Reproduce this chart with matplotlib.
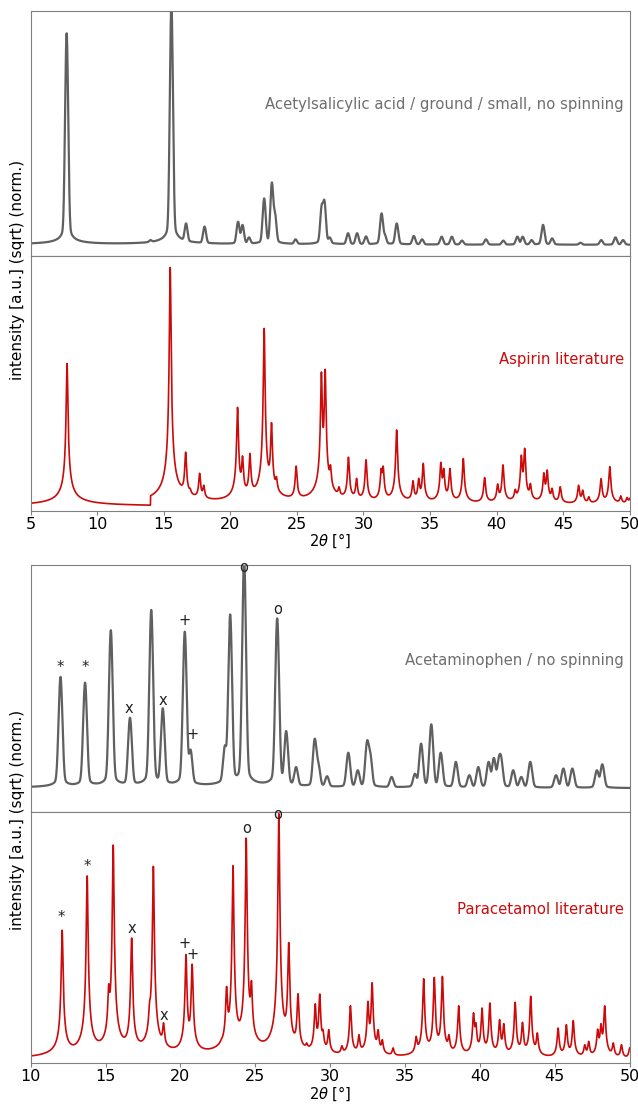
import numpy as np
import matplotlib
matplotlib.use("Agg")
import matplotlib.pyplot as plt

# ---------------- data ----------------
# Aspirin, measured (grey), peak positions [deg 2theta] and visible heights (axis fraction)
asp_exp_pos = [6.9, 7.70, 14.0, 15.57, 16.67, 18.06, 20.58, 20.91, 21.4, 22.54, 23.12, 23.34,
               24.9, 26.87, 27.06, 27.46, 28.84, 29.52, 30.19, 31.36, 31.6, 32.5, 33.78, 34.4,
               35.87, 36.64, 37.4, 39.2, 40.5, 41.56, 41.96, 42.63, 43.49, 44.17, 46.3, 47.86,
               48.93, 49.5]
asp_exp_h = [0.065, 0.909, 0.065, 1.03, 0.133, 0.12, 0.14, 0.127, 0.076, 0.235, 0.30, 0.185,
             0.068, 0.212, 0.229, 0.076, 0.093, 0.093, 0.08, 0.174, 0.09, 0.133, 0.082, 0.068,
             0.079, 0.079, 0.063, 0.068, 0.063, 0.079, 0.079, 0.065, 0.127, 0.072, 0.054, 0.065,
             0.076, 0.065]
asp_exp_base = 0.045

# Aspirin, literature (red)
asp_lit_pos = [7.73, 15.48, 16.64, 16.98, 17.69, 18.0, 20.54, 20.91, 21.47, 22.54, 23.09, 23.46,
               24.94, 26.84, 27.12, 27.52, 28.16, 28.87, 29.48, 30.19, 31.33, 31.48, 32.49, 33.72,
               34.15, 34.49, 35.81, 36.03, 36.49, 37.5, 38.45, 39.1, 40.08, 40.48, 41.4, 41.86,
               42.11, 42.54, 43.55, 43.8, 44.17, 44.78, 46.16, 46.47, 46.93, 47.85, 48.5, 49.33,
               49.8, 50.1]
asp_lit_h = [0.578, 0.955, 0.23, 0.088, 0.147, 0.10, 0.406, 0.215, 0.225, 0.716, 0.346, 0.134,
             0.175, 0.545, 0.555, 0.18, 0.094, 0.21, 0.127, 0.20, 0.166, 0.175, 0.317, 0.118,
             0.127, 0.186, 0.19, 0.166, 0.166, 0.205, 0.03, 0.13, 0.105, 0.18, 0.084, 0.218,
             0.245, 0.107, 0.149, 0.16, 0.088, 0.094, 0.10, 0.081, 0.055, 0.126, 0.173, 0.058,
             0.052, 0.07]
asp_lit_base = 0.016
asp_lit_start = 14.0   # literature pattern above 9 deg only starts here

# Acetaminophen, measured (grey)
ace_exp_pos = [11.99, 13.63, 15.13, 15.35, 16.63, 18.05, 18.82, 20.29, 20.67, 22.97, 23.32, 24.25,
               26.46, 27.06, 27.72, 28.84, 28.97, 29.19, 29.79, 31.21, 31.84, 32.47, 32.66, 34.1,
               35.66, 36.07, 36.75, 37.38, 38.39, 39.29, 39.89, 40.58, 40.93, 41.26, 41.4, 42.22,
               42.76, 43.36, 45.08, 45.57, 46.17, 47.81, 48.17]
ace_exp_h = [0.547, 0.524, 0.21, 0.736, 0.382, 0.818, 0.42, 0.73, 0.253, 0.27, 0.80, 1.03,
             0.784, 0.328, 0.182, 0.185, 0.297, 0.21, 0.145, 0.24, 0.169, 0.29, 0.25, 0.142,
             0.155, 0.277, 0.355, 0.24, 0.203, 0.149, 0.182, 0.203, 0.219, 0.223, 0.23, 0.169,
             0.142, 0.203, 0.149, 0.176, 0.176, 0.169, 0.193]
ace_exp_base = 0.095

# Paracetamol, literature (red)
par_lit_pos = [12.10, 13.77, 15.21, 15.51, 15.73, 16.74, 17.94, 18.19, 18.87, 20.37, 20.78, 22.72,
               23.08, 23.51, 24.39, 24.74, 26.57, 27.23, 27.85, 28.43, 29.0, 29.3, 29.52, 29.9,
               30.78, 31.35, 31.92, 32.52, 32.8, 33.2, 33.48, 34.2, 35.74, 36.24, 36.95, 37.49,
               37.93, 38.58, 39.57, 39.73, 40.14, 40.66, 41.31, 41.59, 42.35, 42.84, 43.39, 43.83,
               45.22, 45.77, 46.23, 47.0, 47.26, 47.86, 48.08, 48.33, 48.9, 49.45, 50.0]
par_lit_h = [0.529, 0.746, 0.315, 0.869, 0.215, 0.498, 0.246, 0.784, 0.16, 0.432, 0.394, 0.093,
             0.305, 0.786, 0.896, 0.328, 0.993, 0.48, 0.276, 0.08, 0.236, 0.275, 0.133, 0.133,
             0.069, 0.228, 0.113, 0.246, 0.32, 0.133, 0.093, 0.06, 0.106, 0.336, 0.341, 0.345,
             0.113, 0.228, 0.20, 0.16, 0.219, 0.239, 0.173, 0.157, 0.242, 0.162, 0.266, 0.12,
             0.139, 0.153, 0.169, 0.073, 0.086, 0.135, 0.157, 0.228, 0.08, 0.073, 0.06]
par_lit_base = 0.004

# Phase markers
ace_mark_x = [11.99, 13.63, 16.58, 18.82, 20.29, 20.84, 24.25, 26.46]
ace_mark_y = [0.585, 0.585, 0.419, 0.453, 0.774, 0.315, 0.99, 0.818]
par_mark_x = [12.05, 13.77, 16.74, 18.87, 20.29, 20.84, 24.39, 26.52]
par_mark_y = [0.578, 0.784, 0.534, 0.189, 0.478, 0.434, 0.936, 0.989]
mark_sym = ["*", "*", "x", "x", "+", "+", "o", "o"]

labels = ["Acetylsalicylic acid / ground / small, no spinning", "Aspirin literature",
          "Acetaminophen / no spinning", "Paracetamol literature"]
ylabel = "intensity [a.u.] (sqrt) (norm.)"
xlabel = r"2$\theta$ [°]"

GREY = "#606060"
RED = "#cc0a0a"


def lor(x, p, w):
    return 1.0 / (1.0 + ((x - p) / w) ** 2)


def pv(x, p, w, eta=0.04):
    g = np.exp(-np.log(2) * ((x - p) / w) ** 2)
    return eta * lor(x, p, w) + (1 - eta) * g


def pattern(x, pos, h, base, prof, w, start=None):
    pos = np.asarray(pos)
    targ = (np.asarray(h) - base) ** 2
    P = np.array([prof(pos, p, w) for p in pos]).T  # rows: eval points, cols: peaks
    A = targ.copy()
    for _ in range(300):
        I = P @ A
        A = A * targ / np.maximum(I, 1e-12)
    comps = np.array([prof(x, p, w) for p in pos])
    if start is not None:
        mask = (pos[:, None] >= start) & (x[None, :] < start)
        comps[mask] = 0.0
    I = (A[:, None] * comps).sum(axis=0)
    return base + np.sqrt(I)


fig = plt.figure(figsize=(6.38, 11.04), dpi=100)
L, W = 30.7 / 638, 599 / 638
H = 1104.0
boxes = [(11, 256), (256, 510.7), (565, 812), (812, 1063)]
axes = [fig.add_axes([L, 1 - b / H, W, (b - t) / H]) for t, b in boxes]

x1 = np.linspace(5, 50, 6000)
x2 = np.linspace(10, 50, 6000)
curves = [
    (x1, pattern(x1, asp_exp_pos, asp_exp_h, asp_exp_base, pv, 0.10), GREY, 1.6),
    (x1, pattern(x1, asp_lit_pos, asp_lit_h, asp_lit_base, lor, 0.065, start=asp_lit_start), RED, 1.2),
    (x2, pattern(x2, ace_exp_pos, ace_exp_h, ace_exp_base, pv, 0.11), GREY, 1.6),
    (x2, pattern(x2, par_lit_pos, par_lit_h, par_lit_base, lor, 0.06), RED, 1.2),
]
label_y = [0.62, 0.592, 0.615, 0.61]
label_c = ["#6e6e6e", RED, "#6e6e6e", RED]

for i, (ax, (x, y, c, lw)) in enumerate(zip(axes, curves)):
    ax.plot(x, y, color=c, lw=lw)
    ax.set_xlim(x[0], x[-1])
    ax.set_ylim(0, 1)
    ax.set_yticks([])
    for s in ax.spines.values():
        s.set_color("#808080")
    ax.text(0.99, label_y[i], labels[i], transform=ax.transAxes, ha="right", va="center",
            color=label_c[i], fontsize=10.7)
    if i in (0, 2):
        ax.tick_params(axis="x", labelbottom=False, length=0)
        ax.spines["bottom"].set_color("#555555")
    else:
        ax.tick_params(axis="x", labelsize=11.5, length=3, color="#808080", pad=1.5)

axes[0].set_xticks([])
axes[1].set_xticks([5, 10, 15, 20, 25, 30, 35, 40, 45, 50])
axes[2].set_xticks([])
axes[3].set_xticks([10, 15, 20, 25, 30, 35, 40, 45, 50])

fig.text(0.5 * (L + L + W), 1 - 541 / H, xlabel, ha="center", va="center", fontsize=10.5)
fig.text(0.5 * (L + L + W), 1 - 1094 / H, xlabel, ha="center", va="center", fontsize=10.5)

for ax, mx, my in [(axes[2], ace_mark_x, ace_mark_y), (axes[3], par_mark_x, par_mark_y)]:
    for xx, yy, s in zip(mx, my, mark_sym):
        ax.text(xx, yy, s, ha="center", va="center", fontsize=10.5, color="#222222", clip_on=False)

fig.text(18 / 638, 1 - 270 / H, ylabel, rotation=90, ha="center", va="center", fontsize=11)
fig.text(18 / 638, 1 - 820 / H, ylabel, rotation=90, ha="center", va="center", fontsize=11)

fig.savefig("out.png", dpi=100)
